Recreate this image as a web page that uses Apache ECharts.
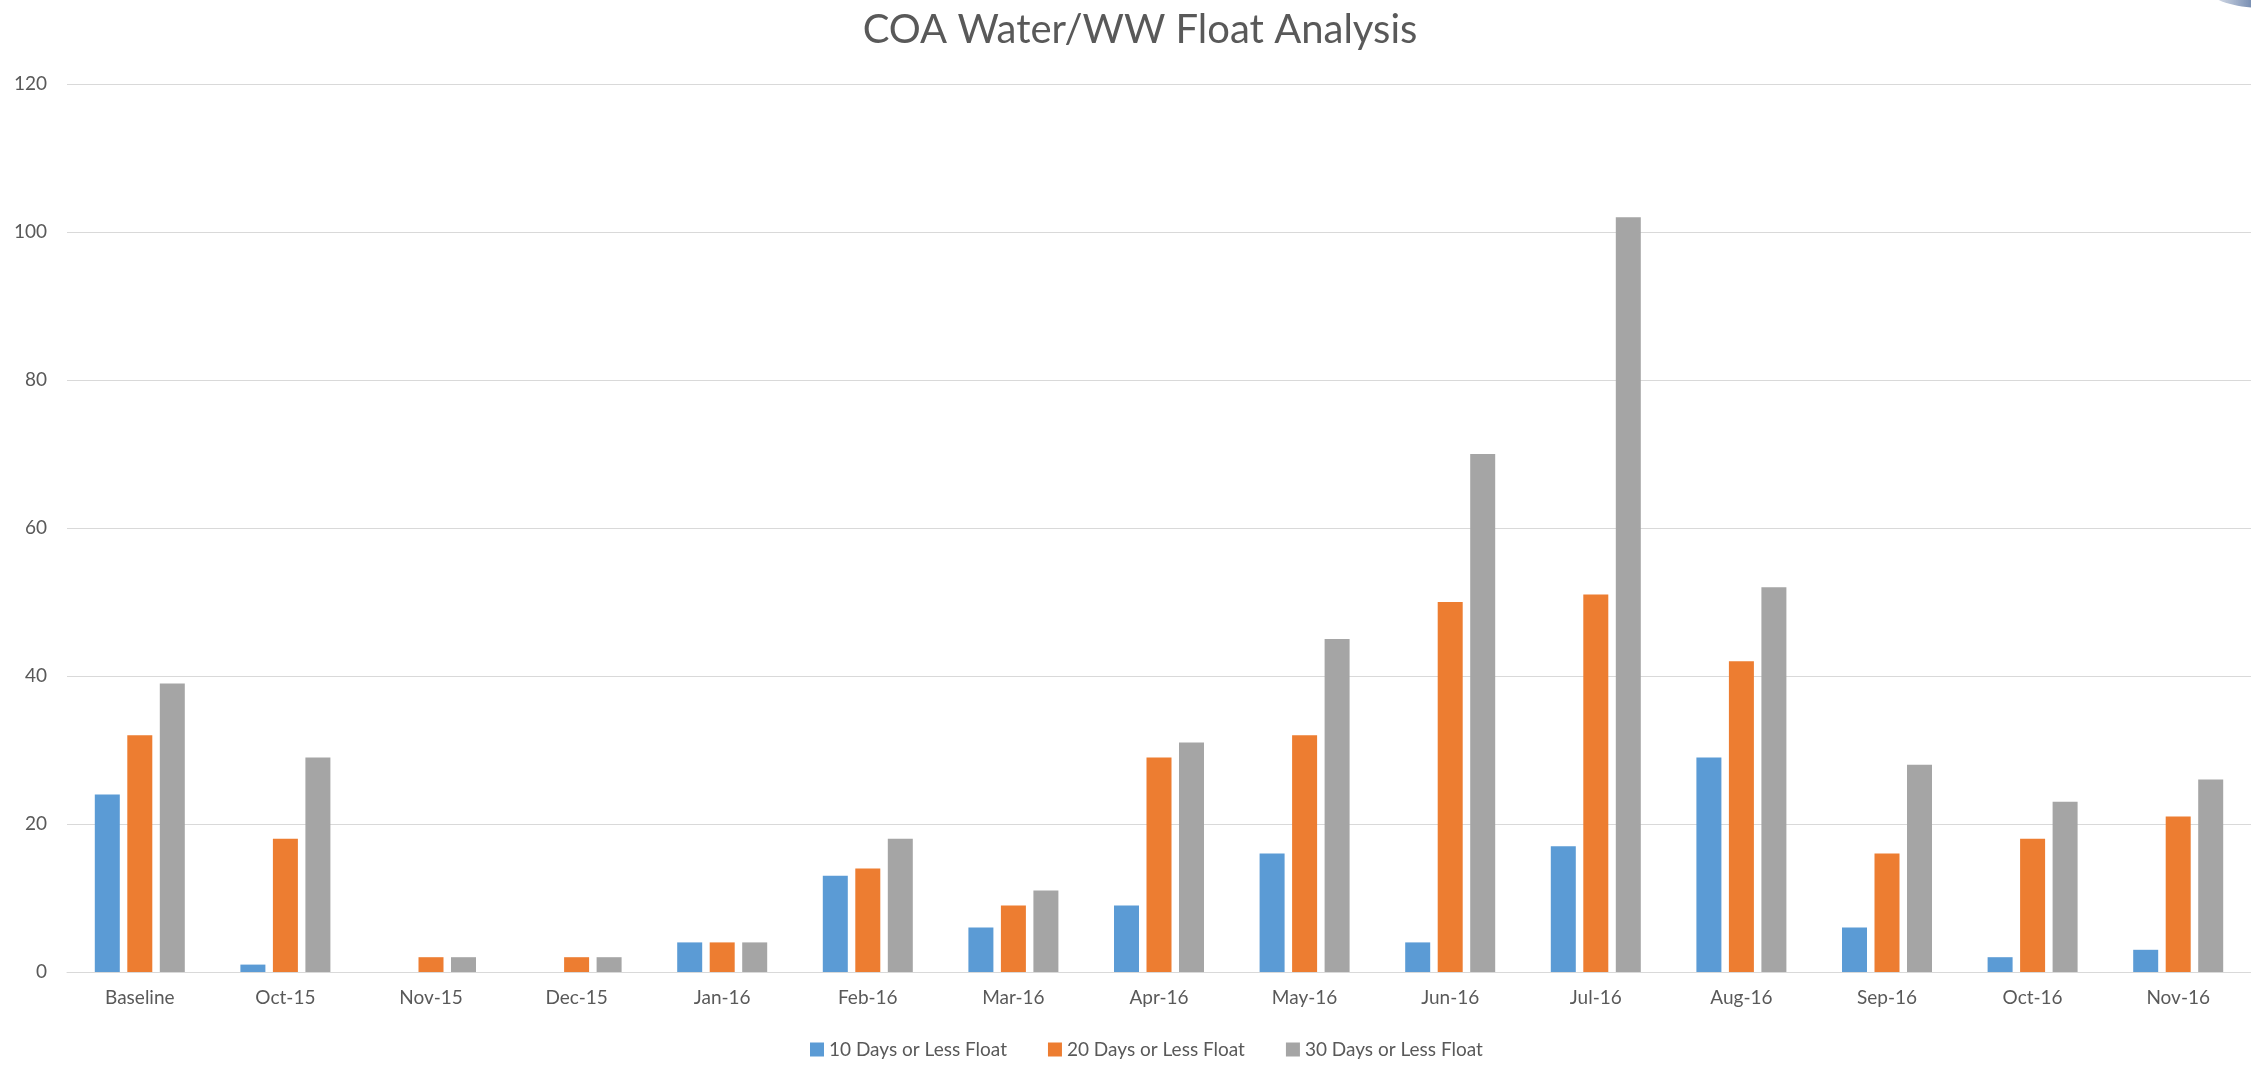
<!DOCTYPE html>
<html>
<head>
<meta charset="utf-8">
<title>COA Water/WW Float Analysis</title>
<script src="https://cdn.jsdelivr.net/npm/echarts@6/dist/echarts.min.js"></script>
<style>
  html, body { margin: 0; padding: 0; background: #fff; }
  #chart { width: 2251px; height: 1077px; }
</style>
</head>
<body>
<div id="chart"></div>
<script>
const months = ['Baseline', 'Oct-15', 'Nov-15', 'Dec-15', 'Jan-16', 'Feb-16', 'Mar-16', 'Apr-16',
  'May-16', 'Jun-16', 'Jul-16', 'Aug-16', 'Sep-16', 'Oct-16', 'Nov-16'];
const float10 = [24, 1, 0, 0, 4, 13, 6, 9, 16, 4, 17, 29, 6, 2, 3];
const float20 = [32, 18, 2, 2, 4, 14, 9, 29, 32, 50, 51, 42, 16, 18, 21];
const float30 = [39, 29, 2, 2, 4, 18, 11, 31, 45, 70, 102, 52, 28, 23, 26];
const yTicks = [0, 20, 40, 60, 80, 100, 120];

const chart = echarts.init(document.getElementById('chart'));

const font = 'Lato, "Open Sans", sans-serif';
const txt = '#595959';

// one helper for the three bar series
const barSeries = (name, data, color) => ({
  name: name,
  type: 'bar',
  data: data,
  barWidth: 25,
  barGap: '30%',
  itemStyle: { color: color },
  emphasis: { disabled: true }
});

chart.setOption({
  animation: false,
  textStyle: { fontFamily: font },
  title: {
    text: 'COA Water/WW Float Analysis',
    left: 1135,
    textAlign: 'center',
    top: 5,
    textStyle: { fontFamily: font, fontSize: 40, fontWeight: 'normal', color: txt }
  },
  legend: {
    left: 805,
    top: 1035,
    itemWidth: 14,
    itemHeight: 14,
    itemGap: 41,
    icon: 'rect',
    textStyle: { fontFamily: font, fontSize: 19, color: txt },
    data: ['10 Days or Less Float', '20 Days or Less Float', '30 Days or Less Float']
  },
  grid: { left: 67, right: -7, top: 84, bottom: 105, containLabel: false },
  xAxis: {
    type: 'category',
    data: months,
    axisLine: { lineStyle: { color: '#D9D9D9', width: 1 } },
    axisTick: { show: false },
    axisLabel: { fontFamily: font, fontSize: 19, color: txt, margin: 16 }
  },
  yAxis: {
    type: 'value',
    min: yTicks[0],
    max: yTicks[yTicks.length - 1],
    interval: 20,
    axisLine: { show: false },
    axisTick: { show: false },
    axisLabel: { fontFamily: font, fontSize: 19, color: txt, margin: 20 },
    splitLine: { lineStyle: { color: '#D9D9D9', width: 1 } }
  },
  graphic: [{
    type: 'ellipse',
    shape: { cx: 2262, cy: -20, rx: 62, ry: 28 },
    style: {
      fill: new echarts.graphic.LinearGradient(0, 0, 1, 0, [
        { offset: 0, color: 'rgba(70,100,150,0)' },
        { offset: 0.4, color: 'rgba(70,100,150,0.7)' },
        { offset: 1, color: '#3b5b8e' }
      ])
    },
    silent: true
  }],
  series: [
    barSeries('10 Days or Less Float', float10, '#5B9BD5'),
    barSeries('20 Days or Less Float', float20, '#ED7D31'),
    barSeries('30 Days or Less Float', float30, '#A5A5A5')
  ]
});
</script>
</body>
</html>
